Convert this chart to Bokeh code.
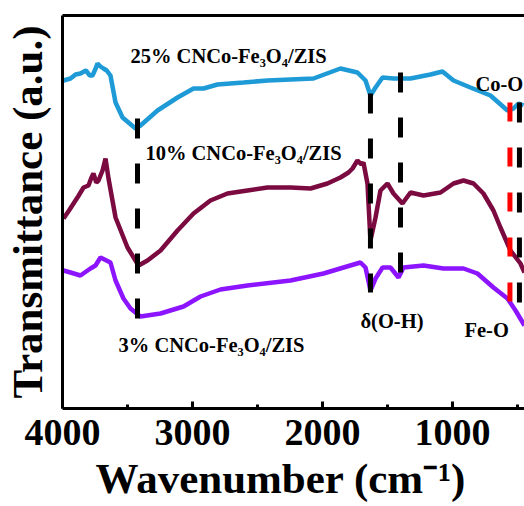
from bokeh.plotting import figure
from bokeh.models import Range1d, FixedTicker, LinearAxis, ColumnDataSource, Title
from bokeh.embed import file_html
from bokeh.resources import INLINE
from bokeh.core.properties import value

# ---- data (wavenumber cm-1, transmittance a.u.) ----
wn_25 = [3992, 3938, 3900, 3862, 3820, 3790, 3769, 3745, 3731, 3708, 3685, 3660, 3631, 3592, 3538, 3438,
         3400, 3269, 3115, 2992, 2915, 2808, 2608, 2423, 2246, 2069, 1862, 1731, 1669, 1631, 1592, 1538,
         1454, 1385, 1323, 1169, 1077, 992, 862, 708, 577, 531, 492, 454]
t_25 = [328, 330, 334, 335, 338, 333, 333, 340, 345, 342, 340, 338, 333, 306, 291, 280,
        283, 298, 311, 320, 320, 324, 326, 328, 329, 330, 340, 336, 328, 313, 321, 331,
        330, 330, 330, 334, 337, 328, 321, 313, 298, 300, 305, 303]

wn_10 = [3992, 3950, 3915, 3880, 3838, 3800, 3780, 3762, 3740, 3723, 3692, 3669, 3646, 3592, 3500, 3415,
         3346, 3246, 3115, 2992, 2862, 2731, 2577, 2423, 2246, 2092, 1962, 1862, 1800, 1769, 1731, 1700,
         1685, 1654, 1631, 1592, 1554, 1500, 1454, 1385, 1323, 1223, 1092, 992, 915, 838, 762, 685,
         631, 554, 477, 446]
t_10 = [190, 198, 205, 212, 221, 223, 230, 235, 226, 228, 238, 250, 230, 191, 161, 143,
        148, 158, 178, 195, 208, 215, 218, 221, 221, 220, 225, 231, 236, 240, 248, 244,
        246, 225, 168, 191, 218, 225, 215, 205, 216, 213, 216, 225, 228, 225, 215, 198,
        181, 158, 145, 136]

wn_3 = [3992, 3938, 3862, 3785, 3746, 3708, 3631, 3592, 3531, 3477, 3400, 3246, 3069, 2938, 2785, 2577,
        2246, 1992, 1838, 1708, 1669, 1631, 1592, 1538, 1477, 1415, 1377, 1223, 1069, 915, 808, 685,
        577, 515, 446]
t_3 = [138, 136, 133, 140, 143, 151, 146, 128, 110, 100, 92, 95, 102, 112, 119, 123,
       128, 135, 141, 146, 141, 118, 130, 141, 141, 131, 141, 143, 140, 140, 135, 121,
       110, 98, 83]

# dashed band markers
black_wn = [3423, 1631, 1400, 485]
black_top = [290, 315, 336, 306]
black_bottom = [88, 116, 135, 105]
red_wn = [558]
red_top = [306]
red_bottom = [106]

# annotations
label_text = ["25% CNCo-Fe₃O₄/ZIS", "10% CNCo-Fe₃O₄/ZIS", "3% CNCo-Fe₃O₄/ZIS",
              "δ(O-H)", "Fe-O", "Co-O"]
label_wn = [3477, 3362, 3569, 1708, 908, 823]
label_t = [353, 256, 64, 88, 79, 325]

x_ticks = [4000, 3000, 2000, 1000]
x_minor = [3500, 2500, 1500, 500]
x_title = "Wavenumber (cm⁻¹)"
y_title = "Transmittance (a.u.)"

FONT = "Liberation Serif"

p = figure(frame_width=462, frame_height=393, output_backend="svg", toolbar_location=None,
           x_range=Range1d(4000, 446), y_range=Range1d(0, 393),
           min_border_left=62, min_border_right=0, min_border_top=15, min_border_bottom=98)
p.outline_line_color = None
p.xgrid.visible = False
p.ygrid.visible = False

p.line(wn_25, t_25, line_color="#1e9ad6", line_width=4.5)
p.line(wn_10, t_10, line_color="#7a0a40", line_width=4.5)
p.line(wn_3, t_3, line_color="#8c14ff", line_width=4.5)

for x, y0, y1 in zip(black_wn, black_top, black_bottom):
    p.line([x, x], [y0, y1], line_color="black", line_width=5, line_dash="20 25")
for x, y0, y1 in zip(red_wn, red_top, red_bottom):
    p.line([x, x], [y0, y1], line_color="#ff0000", line_width=5, line_dash="19 26")

src = ColumnDataSource(dict(x=label_wn, y=label_t, text=label_text))
p.text(x="x", y="y", text="text", source=src, text_font=value(FONT), text_font_style="bold",
       text_font_size="20.5px", text_baseline="alphabetic", text_align="left", text_color="black")

xa = p.xaxis[0]
xa.ticker = FixedTicker(ticks=x_ticks, minor_ticks=x_minor)
xa.axis_line_width = 3
xa.axis_line_color = "black"
xa.major_tick_line_width = 3
xa.minor_tick_line_width = 3
xa.major_tick_in = 7
xa.major_tick_out = 0
xa.minor_tick_in = 4
xa.minor_tick_out = 0
xa.major_label_text_font = FONT
xa.major_label_text_font_style = "bold"
xa.major_label_text_font_size = "38px"
xa.major_label_text_color = "black"
xa.major_label_standoff = 11

# x-axis title as a bottom title, shifted slightly left of frame centre as in the original
p.add_layout(Title(text=x_title, align="left", offset=33, standoff=10,
                   text_font=FONT, text_font_style="bold", text_font_size="43px",
                   text_color="black"), "below")

ya = p.yaxis[0]
ya.ticker = FixedTicker(ticks=[])
ya.axis_label = y_title
ya.axis_line_width = 3
ya.axis_line_color = "black"
ya.major_tick_line_color = None
ya.minor_tick_line_color = None
ya.axis_label_text_font = FONT
ya.axis_label_text_font_style = "bold"
ya.axis_label_text_font_size = "43px"
ya.axis_label_text_color = "black"
ya.axis_label_standoff = 12

top = LinearAxis(ticker=FixedTicker(ticks=[]), axis_line_width=3, axis_line_color="black",
                 major_tick_line_color=None, minor_tick_line_color=None)
p.add_layout(top, "above")

open("out.html", "w").write(file_html(p, INLINE))
